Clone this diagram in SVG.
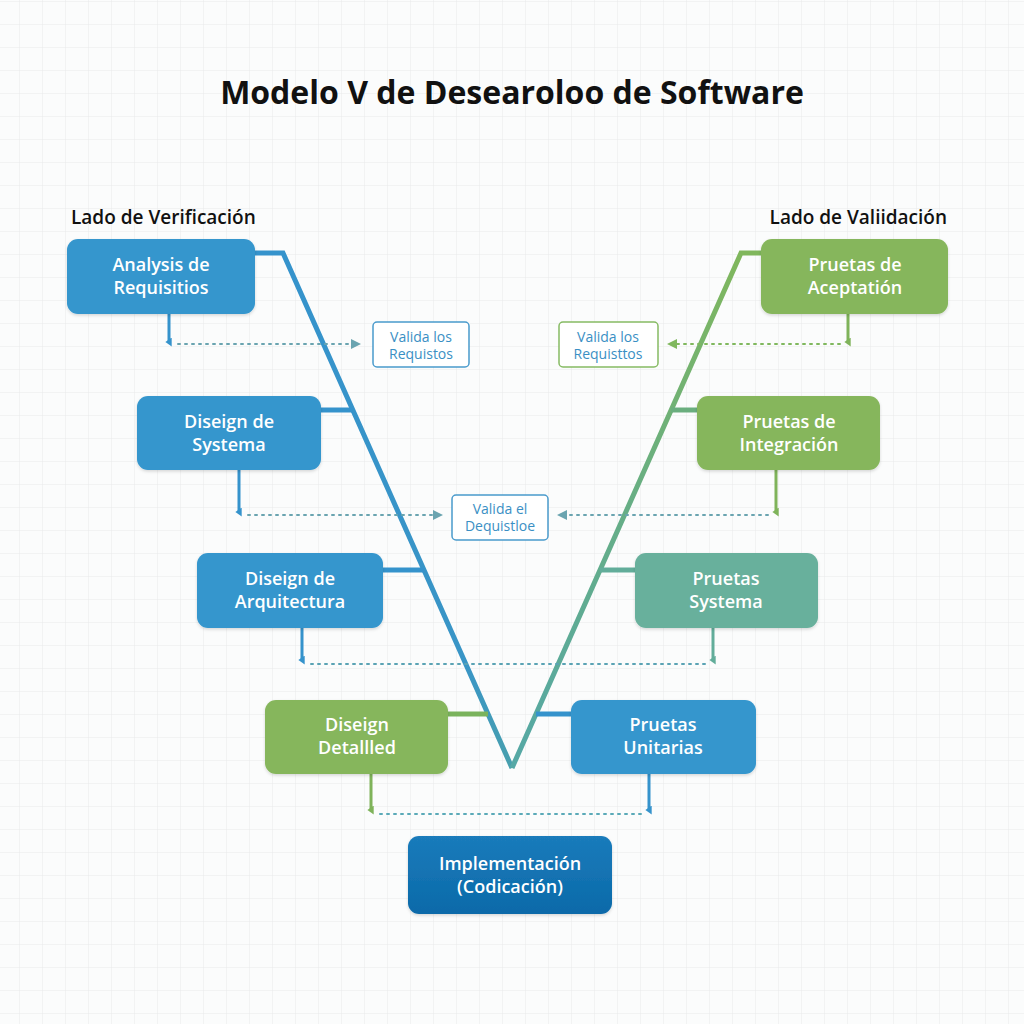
<svg xmlns="http://www.w3.org/2000/svg" width="1024" height="1024" viewBox="0 0 1024 1024">
<defs>
<pattern id="grid" width="23" height="23" patternUnits="userSpaceOnUse" x="-3" y="2">
<path d="M23 0V23M0 23H23" fill="none" stroke="#e8eaeb" stroke-width="1"/>
</pattern>
<linearGradient id="rightV" gradientUnits="userSpaceOnUse" x1="512" y1="768" x2="741" y2="253">
<stop offset="0" stop-color="#55a8a6"/>
<stop offset="0.5" stop-color="#66ae86"/>
<stop offset="1" stop-color="#80b75c"/>
</linearGradient>
<linearGradient id="leftV" gradientUnits="userSpaceOnUse" x1="283" y1="253" x2="512" y2="768">
<stop offset="0" stop-color="#3593cc"/>
<stop offset="0.8" stop-color="#3995c6"/>
<stop offset="1" stop-color="#48a0ad"/>
</linearGradient>
<linearGradient id="implGrad" x1="0" y1="0" x2="0" y2="1">
<stop offset="0" stop-color="#1a7bbb"/>
<stop offset="1" stop-color="#0b6aa9"/>
</linearGradient>
<filter id="sh" x="-10%" y="-10%" width="120%" height="130%">
<feDropShadow dx="0" dy="1.5" stdDeviation="1.5" flood-color="#000" flood-opacity="0.15"/>
</filter>
<marker id="dnBlue" viewBox="0 0 10 10" refX="5" refY="5" markerWidth="9" markerHeight="9" markerUnits="userSpaceOnUse" orient="auto">
<path d="M0 2 L10 2 L5 9 Z" fill="#3593cc"/>
</marker>
<marker id="dnGreen" viewBox="0 0 10 10" refX="5" refY="5" markerWidth="9" markerHeight="9" markerUnits="userSpaceOnUse" orient="auto">
<path d="M0 2 L10 2 L5 9 Z" fill="#7fb35a"/>
</marker>
<marker id="dnTeal" viewBox="0 0 10 10" refX="5" refY="5" markerWidth="9" markerHeight="9" markerUnits="userSpaceOnUse" orient="auto">
<path d="M0 2 L10 2 L5 9 Z" fill="#62ad9a"/>
</marker>
<marker id="arTeal" viewBox="0 0 10 10" refX="9" refY="5" markerWidth="10" markerHeight="10" markerUnits="userSpaceOnUse" orient="auto">
<path d="M0 0 L10 5 L0 10 Z" fill="#6aa4b0"/>
</marker>
<marker id="arGreen" viewBox="0 0 10 10" refX="9" refY="5" markerWidth="10" markerHeight="10" markerUnits="userSpaceOnUse" orient="auto">
<path d="M0 0 L10 5 L0 10 Z" fill="#80b85e"/>
</marker>
</defs>
<style>
.title{font-family:"Open Sans","Liberation Sans",sans-serif;font-weight:700;font-size:32px;fill:#111}
.side{font-family:"Open Sans","Liberation Sans",sans-serif;font-weight:600;font-size:19px;fill:#111}
.nt{font-family:"Open Sans","Liberation Sans",sans-serif;font-weight:600;font-size:18px;fill:#fff;text-anchor:middle}
.vt{font-family:"Open Sans","Liberation Sans",sans-serif;font-weight:400;font-size:14px;fill:#3a8fc4;text-anchor:middle}
.blue{fill:#3496cd}
.green{fill:#86b65c}
.teal{fill:#68b09c}
.vbox{fill:#fff;stroke-width:1.5}
.dot{fill:none;stroke-width:2;stroke-dasharray:2 5;stroke-linecap:round}
.stem{fill:none;stroke-width:3}
</style>
<rect width="1024" height="1024" fill="#fbfcfc"/>
<rect width="1024" height="1024" fill="url(#grid)"/>

<text class="title" x="512" y="104" text-anchor="middle">Modelo V de Desearoloo de Software</text>
<text class="side" x="71" y="224">Lado de Verificación</text>
<text class="side" x="947" y="224" text-anchor="end">Lado de Valiidación</text>

<g id="connectors">
<path d="M255 253 H283 L512 768" fill="none" stroke="url(#leftV)" stroke-width="5" stroke-linejoin="miter"/>
<path d="M512 768 L741 253 H761" fill="none" stroke="url(#rightV)" stroke-width="5"/>
<path d="M321 410 H353" stroke="#3593cc" stroke-width="5"/>
<path d="M383 570 H424" stroke="#3593cc" stroke-width="5"/>
<path d="M448 714 H488" stroke="#7ab35c" stroke-width="5"/>
<path d="M671 410 H697" stroke="#6aae7e" stroke-width="5"/>
<path d="M600 570 H635" stroke="#62ad9a" stroke-width="5"/>
<path d="M536 714 H571" stroke="#3593cc" stroke-width="5"/>

<path class="stem" d="M169 314 V342" stroke="#3593cc" marker-end="url(#dnBlue)"/>
<path class="dot" d="M178 344 H360" stroke="#6aa4b0" marker-end="url(#arTeal)"/>
<path class="stem" d="M848 314 V342" stroke="#7fb35a" marker-end="url(#dnGreen)"/>
<path class="dot" d="M840 344 H668" stroke="#80b85e" marker-end="url(#arGreen)"/>
<path class="stem" d="M239 470 V512" stroke="#3593cc" marker-end="url(#dnBlue)"/>
<path class="dot" d="M248 515 H442" stroke="#6aa4b0" marker-end="url(#arTeal)"/>
<path class="stem" d="M776 470 V512" stroke="#7fb35a" marker-end="url(#dnGreen)"/>
<path class="dot" d="M768 515 H558" stroke="#6aa4b0" marker-end="url(#arTeal)"/>
<path class="stem" d="M302 628 V660" stroke="#3593cc" marker-end="url(#dnBlue)"/>
<path class="stem" d="M713 628 V660" stroke="#62ad9a" marker-end="url(#dnTeal)"/>
<path class="dot" d="M311 664 H706" stroke="#5aa3b4"/>
<path class="stem" d="M371 774 V810" stroke="#7fb35a" marker-end="url(#dnGreen)"/>
<path class="stem" d="M649 774 V810" stroke="#3593cc" marker-end="url(#dnBlue)"/>
<path class="dot" d="M380 814 H642" stroke="#5aaab8"/>
</g>

<g id="n1"><rect class="blue" x="67" y="239" width="188" height="75" rx="11" filter="url(#sh)"/>
<text class="nt" x="161" y="271">Analysis de</text><text class="nt" x="161" y="294">Requisitios</text></g>
<g id="n2"><rect class="blue" x="137" y="396" width="184" height="74" rx="11" filter="url(#sh)"/>
<text class="nt" x="229" y="428">Diseign de</text><text class="nt" x="229" y="451">Systema</text></g>
<g id="n3"><rect class="blue" x="197" y="553" width="186" height="75" rx="11" filter="url(#sh)"/>
<text class="nt" x="290" y="585">Diseign de</text><text class="nt" x="290" y="608">Arquitectura</text></g>
<g id="n4"><rect class="green" x="265" y="700" width="183" height="74" rx="11" filter="url(#sh)"/>
<text class="nt" x="357" y="731">Diseign</text><text class="nt" x="357" y="754">Detallled</text></g>
<g id="n5"><rect class="green" x="761" y="239" width="187" height="75" rx="11" filter="url(#sh)"/>
<text class="nt" x="855" y="271">Pruetas de</text><text class="nt" x="855" y="294">Aceptatión</text></g>
<g id="n6"><rect class="green" x="697" y="396" width="183" height="74" rx="11" filter="url(#sh)"/>
<text class="nt" x="789" y="428">Pruetas de</text><text class="nt" x="789" y="451">Integración</text></g>
<g id="n7"><rect class="teal" x="635" y="553" width="183" height="75" rx="11" filter="url(#sh)"/>
<text class="nt" x="726" y="585">Pruetas</text><text class="nt" x="726" y="608">Systema</text></g>
<g id="n8"><rect class="blue" x="571" y="700" width="185" height="74" rx="11" filter="url(#sh)"/>
<text class="nt" x="663" y="731">Pruetas</text><text class="nt" x="663" y="754">Unitarias</text></g>
<g id="n9"><rect fill="url(#implGrad)" x="408" y="836" width="204" height="78" rx="11" filter="url(#sh)"/>
<text class="nt" x="510" y="870">Implementación</text><text class="nt" x="510" y="893">(Codicación)</text></g>

<g id="v1"><rect class="vbox" x="373" y="322" width="96" height="45" rx="4" stroke="#4a9bcc"/>
<text class="vt" x="421" y="342">Valida los</text><text class="vt" x="421" y="359">Requistos</text></g>
<g id="v2"><rect class="vbox" x="559" y="322" width="99" height="45" rx="4" stroke="#86bb63"/>
<text class="vt" x="608" y="342">Valida los</text><text class="vt" x="608" y="359">Requisttos</text></g>
<g id="v3"><rect class="vbox" x="452" y="495" width="96" height="45" rx="4" stroke="#4a9bcc"/>
<text class="vt" x="500" y="514">Valida el</text><text class="vt" x="500" y="531">Dequistloe</text></g>
</svg>
